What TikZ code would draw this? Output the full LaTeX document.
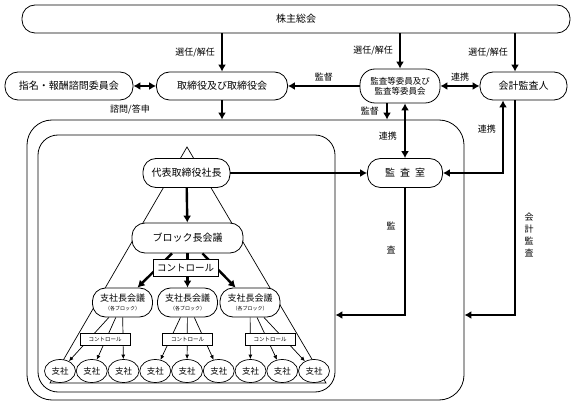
\documentclass[tikz,border=0pt]{standalone}
\usepackage{fontspec}
\setmainfont{Noto Sans CJK JP}
\usepackage{tikz}
\usetikzlibrary{shapes.geometric,arrows.meta}

\begin{document}
\begin{tikzpicture}[x=1pt,y=-1pt]
	\tikzstyle{pill}=[rectangle,rounded corners=13pt,draw=black,line width=0.8pt,fill=white,inner sep=2pt,font=\fontsize{10}{12}\selectfont]
	\tikzstyle{shisha}=[ellipse,draw=black,line width=0.7pt,fill=white,minimum width=31pt,minimum height=23pt,inner sep=1pt,font=\fontsize{8.5}{10}\selectfont]
	\tikzstyle{ctrl}=[rectangle,draw=black,line width=0.7pt,fill=white,inner sep=1pt]
	\tikzstyle{waku}=[rectangle,draw=black,line width=0.8pt]
	\tikzstyle{lbl}=[inner sep=1pt,font=\fontsize{9}{11}\selectfont]
	\tikzstyle{thickline}=[line width=2.4pt,>={Latex[length=7pt,width=8pt]}]
	\tikzstyle{thinline}=[line width=0.7pt,>={Latex[length=4.5pt,width=4pt]}]
	\useasboundingbox (0,0) rectangle (576,406);
	\draw[line width=0.7pt] (187,147) -- (50,383) -- (326,383) -- cycle;
	\coordinate (kantoku) at (387,0);
	\coordinate (renline) at (503,0);
	\coordinate (kkline) at (515,0);
	\coordinate (audy) at (0,315);
	\node[pill,minimum width=548pt,minimum height=28pt](kabu) at (296,19) {株主総会};
	\node[pill,minimum width=128pt,minimum height=28pt](shimei) at (69,86) {指名・報酬諮問委員会};
	\node[pill,minimum width=131pt,minimum height=28pt](tori) at (222,86) {取締役及び取締役会};
	\node[pill,rounded corners=15pt,minimum width=80pt,minimum height=34pt,align=center,font=\fontsize{8.5}{10}\selectfont](kansa) at (400,86) {監査等委員及び\\監査等委員会};
	\node[pill,minimum width=87pt,minimum height=28pt](kaikei) at (523.5,86) {会計監査人};
	\node[waku,rounded corners=25pt,minimum width=437pt,minimum height=280pt](grp) at (245.5,260) {};
	\node[waku,rounded corners=20pt,minimum width=297pt,minimum height=257pt](block) at (186.5,263.5) {};
	\node[pill,minimum width=75pt,minimum height=29pt](shitsu) at (405,173) {監\hspace{5pt}査\hspace{5pt}室};
	\node[pill,minimum width=87pt,minimum height=29pt](daihyo) at (186.5,173) {代表取締役社長};
	\node[pill,minimum width=111pt,minimum height=30pt](blk) at (187.5,238) {ブロック長会議};
	\node[pill,minimum width=60pt,minimum height=29pt,align=center,font=\fontsize{9}{10}\selectfont](sb1) at (122.5,302.5) {支社長会議\\[-1pt]{\fontsize{5}{6}\selectfont （各ブロック）}};
	\node[pill,minimum width=60pt,minimum height=29pt,align=center,font=\fontsize{9}{10}\selectfont](sb2) at (187.5,302.5) {支社長会議\\[-1pt]{\fontsize{5}{6}\selectfont （各ブロック）}};
	\node[pill,minimum width=60pt,minimum height=29pt,align=center,font=\fontsize{9}{10}\selectfont](sb3) at (250,302.5) {支社長会議\\[-1pt]{\fontsize{5}{6}\selectfont （各ブロック）}};
	\node[shisha](s1) at (60,371) {支社};
	\node[shisha](s2) at (91.75,371) {支社};
	\node[shisha](s3) at (123.5,371) {支社};
	\node[shisha](s4) at (155.25,371) {支社};
	\node[shisha](s5) at (187,371) {支社};
	\node[shisha](s6) at (218.75,371) {支社};
	\node[shisha](s7) at (250.5,371) {支社};
	\node[shisha](s8) at (282.25,371) {支社};
	\node[shisha](s9) at (314,371) {支社};
	\draw[thickline,->](kabu.south -| tori) -- node[lbl,left=5pt](sen1) {選任/解任} (tori);
	\draw[thickline,->](kabu.south -| kansa) -- node[lbl,left=5pt](sen2) {選任/解任} (kansa);
	\draw[thickline,->](kabu.south -| kkline) -- node[lbl,left=5pt](sen3) {選任/解任} (kaikei.north -| kkline);
	\draw[thickline,<->](shimei) -- (tori);
	\draw[thickline,->](kansa) -- node[lbl,above=3pt](kan1) {監督} (tori);
	\draw[thickline,<->](kansa) -- node[lbl,above=3pt](ren1) {連携} (kaikei);
	\draw[thickline,->](tori) -- (tori |- grp.north);
	\node[lbl](shimon) at (130,109) {諮問/答申};
	\draw[thickline,->](kansa.south -| kantoku) -- node[lbl,left=6pt](kan2) {監督} (grp.north -| kantoku);
	\draw[thickline,<->](shitsu) -- node[lbl,left=6pt,pos=0.4](ren2) {連携} (shitsu |- kansa.south);
	\draw[thickline,->](daihyo) -- (shitsu);
	\draw[thickline,<->](shitsu) -| node[lbl,left=5pt,pos=0.8](ren3) {連携} (kaikei.south -| renline);
	\draw[thickline,->](kaikei.south -| kkline) |- (grp.east |- audy);
	\node[lbl,align=center,font=\fontsize{9}{12}\selectfont](kaikan) at (529,235) {会\\計\\監\\査};
	\draw[thickline,->](shitsu) |- (block.east |- audy);
	\node[lbl,align=center](kansalbl) at (391,238) {監\\[13pt]査};
	\draw[thickline,->](daihyo) -- (blk);
	\draw[thickline,->](blk) -- (sb1);
	\draw[thickline,->](blk) -- (sb2);
	\draw[thickline,->](blk) -- (sb3);
	\draw[thinline,->](sb1) -- (s1);
	\draw[thinline,->](sb1) -- (s2);
	\draw[thinline,->](sb1) -- (s3);
	\draw[thinline,->](sb2) -- (s4);
	\draw[thinline,->](sb2) -- (s5);
	\draw[thinline,->](sb2) -- (s6);
	\draw[thinline,->](sb3) -- (s7);
	\draw[thinline,->](sb3) -- (s8);
	\draw[thinline,->](sb3) -- (s9);
	\node[ctrl,minimum width=65pt,minimum height=17pt,font=\fontsize{9.5}{10}\selectfont](ctrl0) at (185.5,268) {コントロール};
	\node[ctrl,minimum width=50pt,minimum height=12pt,font=\fontsize{5.5}{6}\selectfont](ctrl1) at (105,339) {コントロール};
	\node[ctrl,minimum width=50pt,minimum height=12pt,font=\fontsize{5.5}{6}\selectfont](ctrl2) at (187.5,339) {コントロール};
	\node[ctrl,minimum width=50pt,minimum height=12pt,font=\fontsize{5.5}{6}\selectfont](ctrl3) at (270,339) {コントロール};
\end{tikzpicture}
\end{document}
